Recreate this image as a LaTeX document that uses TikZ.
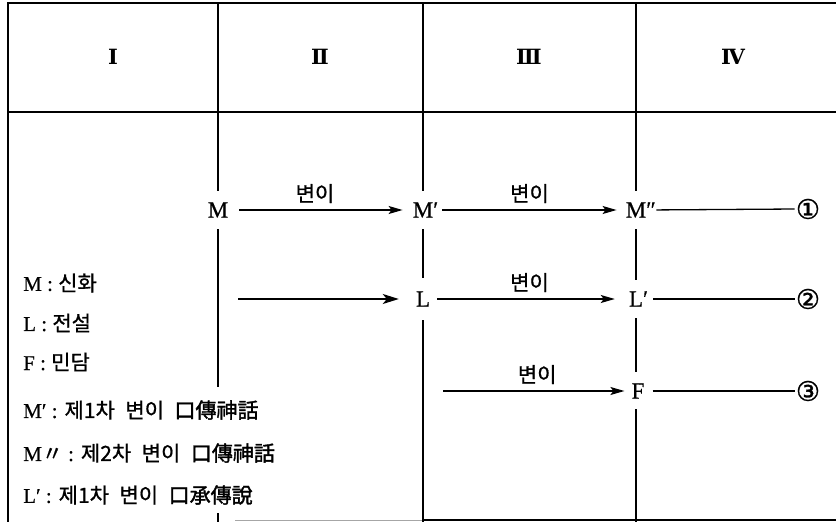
\documentclass[tikz,border=0pt]{standalone}
\usepackage{fontspec}
\setmainfont{Liberation Serif}[FakeBold=0.5]
\newfontfamily\kr{Noto Sans CJK KR}[FakeBold=0.8]
\newfontfamily\hj{Noto Sans CJK KR}[FakeBold=1.6]
\newfontfamily\rn{DejaVu Serif}
\newfontfamily\cd{DejaVu Sans}[FakeBold=1]
\usetikzlibrary{arrows.meta}
\begin{document}
\begin{tikzpicture}[x=1pt,y=-1pt,
  frame/.style={line width=1.4pt},
  col/.style={line width=1.4pt},
  term/.style={inner sep=0pt, minimum height=38pt, font=\fontsize{23}{23}\selectfont},
  var/.style={font=\fontsize{21}{21}\selectfont\kr},
  hdr/.style={font=\fontsize{21}{21}\selectfont\rn\bfseries},
  circ/.style={inner sep=0pt, font=\fontsize{27}{27}\selectfont\cd},
  leg/.style={anchor=west, inner sep=0pt, font=\fontsize{21}{21}\selectfont},
  legk/.style={font=\fontsize{21}{21}\selectfont\kr},
  arr/.style={line width=1.3pt, -{Stealth[length=14pt,width=8pt,inset=3pt]}},
  bigarr/.style={line width=1.3pt, -{Stealth[length=16pt,width=10pt,inset=4pt]}},
  ln/.style={line width=1.3pt}]
\useasboundingbox (0,0) rectangle (836,522);
% frame
\draw[frame] (8,522) -- (8,3) -- (836,3);
\draw[frame] (8,112) -- (836,112);
\draw[line width=1pt, black!35] (235,520) -- (423,520);
\draw[frame] (423,520) -- (836,520);
% header
\node[hdr] (h1) at (113,57) {Ⅰ};
\node[hdr] (h2) at (320,57) {Ⅱ};
\node[hdr] (h3) at (529,57) {Ⅲ};
\node[hdr] (h4) at (733,57) {Ⅳ};
% terms
\node[term] (M) at (218,210) {M};
\node[term] (Mp) at (423,210) {M\rlap{′}};
\node[term] (Mpp) at (636,210) {M\rlap{″}};
\node[term] (L) at (423,299) {L};
\node[term] (Lp) at (636,299) {L\rlap{′}};
\node[term] (F) at (638,391) {F};
\node[circ] (c1) at (808,209) {①};
\node[circ] (c2) at (808,299) {②};
\node[circ] (c3) at (808,391) {③};
% column lines
\coordinate (t1) at (218,3); \coordinate (b1) at (218,387);
\coordinate (t2) at (423,3); \coordinate (b2) at (423,522);
\coordinate (t3) at (636,3); \coordinate (b3) at (636,522);
\draw[col] (t1) -- (M.north) (M.south) -- (b1);
\draw[col] (218,513) -- (218,522);
\draw[col] (t2) -- (Mp.north) (Mp.south) -- ([yshift=2pt]L.north) ([yshift=-2pt]L.south) -- (b2);
\draw[col] (t3) -- (Mpp.north) (Mpp.south) -- (Lp.north) (Lp.south) -- (636,372) (636,409) -- (b3);
% arrows
\draw[arr, shorten <=11pt, shorten >=10pt] (M) -- node[var, above=3pt, pos=0.47] (v1) {변이} (Mp);
\draw[arr, shorten <=9pt, shorten >=9pt] (Mp.east) -- node[var, above=3pt] (v2) {변이} (Mpp.west);
\coordinate (s2) at (238,299);
\draw[bigarr, shorten >=17pt] (s2) -- (L);
\draw[arr, shorten <=7pt, shorten >=14pt] (L) -- node[var, above=3pt] (v3) {변이} (Lp);
\coordinate (s3) at (443,391);
\draw[arr, shorten >=7pt] (s3) -- node[var, above=3pt] (v4) {변이} (F);
\draw[ln, shorten <=10pt, shorten >=1pt] (Mpp.east) -- (c1.west);
\draw[ln, shorten <=10pt, shorten >=1pt] (Lp.east) -- (c2.west);
\draw[ln, shorten <=8pt, shorten >=1pt] (F.east) -- (c3.west);
% legend
\node[leg] (l1) at (23,283) {M : {\kr 신화}};
\node[leg] (l2) at (23,323) {L : {\kr 전설}};
\node[leg] (l3) at (23,362) {F : {\kr 민담}};
\node[leg] (l4) at (23,410) {M′ : {\kr 제1차\enspace 변이\enspace {\hj 口傳神話}}};
\node[leg] (l5) at (23,453) {M{\kr 〃} : {\kr 제2차\enspace 변이\enspace {\hj 口傳神話}}};
\node[leg] (l6) at (23,495) {L′ : {\kr 제1차\enspace 변이\enspace {\hj 口承傳說}}};
\end{tikzpicture}
\end{document}
